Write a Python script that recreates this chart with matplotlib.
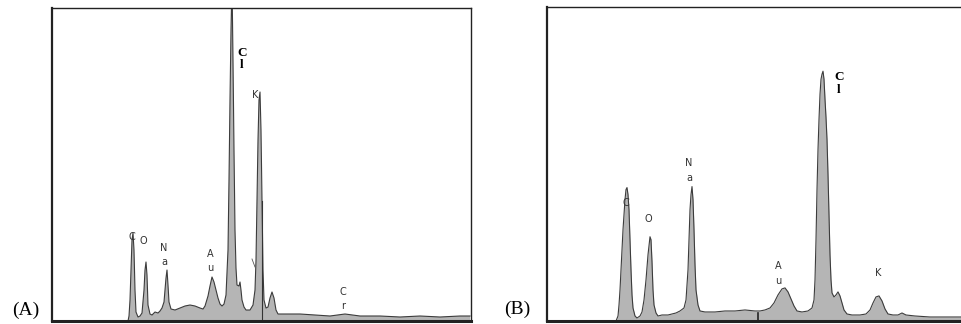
import numpy as np
import matplotlib
matplotlib.use("Agg")
import matplotlib.pyplot as plt

# spectrum (A): channel, counts (arbitrary units)
chan_a = [76, 77, 78, 79, 80, 81, 82, 83, 84, 86, 88, 90, 92, 93, 94, 95, 96, 98, 100,
          103, 106, 108, 110, 112, 113, 114, 115, 116, 117, 119, 123, 128, 133, 138, 143,
          148, 151, 153, 156, 158, 160, 162, 164, 166, 168, 170, 172, 174, 176, 177, 178,
          179, 180, 181, 182, 183, 184, 185, 187, 188, 189, 190, 192, 194, 198, 201, 203,
          204, 205, 206, 207, 208, 209, 210, 211, 212, 214, 216, 218, 220, 222, 224, 226,
          238, 248, 263, 278, 293, 308, 328, 348, 368, 388, 408, 418]
cnt_a = [0, 5, 21, 51, 81, 88, 71, 31, 9, 4, 5, 8, 31, 51, 59, 46, 16, 7, 6,
         9, 8, 10, 13, 19, 31, 43, 51, 36, 19, 12, 11, 13, 15, 16, 15,
         13, 12, 15, 25, 35, 44, 39, 31, 23, 17, 15, 17, 26, 71, 141, 221,
         291, 340, 261, 171, 91, 53, 36, 35, 39, 31, 21, 14, 11, 11, 16, 31,
         61, 121, 181, 221, 229, 191, 121, 51, 21, 13, 14, 23, 29, 23, 11, 7,
         7, 7, 6, 5, 7, 5, 5, 4, 5, 4, 5, 5]

# spectrum (B)
chan_b = [69, 71, 72, 73, 74, 75, 76, 77, 78, 79, 80, 81, 82, 83, 84, 85, 86, 88, 90,
          93, 95, 97, 99, 101, 103, 104, 105, 106, 107, 109, 111, 115, 121, 125, 129,
          133, 137, 139, 141, 142, 143, 144, 145, 146, 147, 148, 149, 151, 153, 158,
          168, 178, 188, 198, 208, 213, 218, 223, 227, 231, 235, 238, 241, 244, 247,
          250, 255, 261, 265, 267, 268, 269, 270, 271, 272, 273, 274, 275, 276, 277,
          278, 279, 280, 281, 282, 283, 284, 285, 287, 289, 291, 293, 295, 297, 300,
          305, 313, 319, 323, 326, 329, 332, 335, 338, 341, 346, 351, 355, 359, 368,
          383, 398, 415]
cnt_b = [0, 5, 16, 31, 51, 71, 91, 106, 121, 131, 133, 126, 111, 81, 51, 26, 13, 5, 3,
         5, 9, 21, 41, 66, 84, 81, 59, 31, 16, 8, 5, 6, 6, 7, 8,
         10, 13, 21, 51, 81, 111, 126, 134, 121, 91, 56, 31, 16, 10, 9,
         9, 10, 10, 11, 10, 10, 11, 13, 18, 26, 32, 33, 29, 22, 15,
         10, 9, 10, 13, 21, 41, 81, 131, 171, 201, 226, 241, 246, 249, 241,
         221, 203, 181, 146, 106, 66, 41, 28, 24, 26, 29, 25, 18, 11, 7,
         6, 6, 7, 11, 18, 24, 25, 20, 12, 7, 6, 6, 8, 6, 5,
         4, 4, 4]

# peak labels: text, channel, counts
labels_a = [("C", 80, 84), ("O", 91, 80), ("N\na", 112, 66), ("A\nu", 158, 60),
            ("K", 203, 226), ("C\nr", 291, 22)]
cl_a = (190, 262)
labels_b = [("C", 79, 118), ("O", 101, 102), ("N\na", 142, 150), ("A\nu", 231, 47),
            ("K", 331, 48)]
cl_b = (292, 237)

FILL = "#b5b5b5"
EDGE = "#3c3c3c"

fig = plt.figure(figsize=(9.61, 3.24), dpi=100)


def spectrum(ax, chan, cnt, labels, cl, xmax):
    ax.fill_between(chan, cnt, 0, color=FILL, lw=0)
    ax.plot(chan, cnt, color=EDGE, lw=0.8)
    for txt, x, y in labels:
        ax.text(x, y, txt, ha="center", va="center", fontsize=7, color="#333333",
                linespacing=1.6, family="DejaVu Sans")
    ax.text(cl[0], cl[1], "C\nl", ha="center", va="center", fontsize=9.5,
            fontweight="bold", family="Liberation Serif", linespacing=1.1)
    ax.set_xlim(0, xmax)
    ax.set_ylim(0, 313)
    ax.set_xticks([])
    ax.set_yticks([])
    ax.spines["left"].set_linewidth(1.6)
    ax.spines["bottom"].set_linewidth(2.2)
    ax.spines["top"].set_linewidth(1.0)
    ax.spines["right"].set_linewidth(1.0)
    for s in ax.spines.values():
        s.set_color("#222222")


axA = fig.add_axes([52 / 961, 3 / 324, 419 / 961, 313 / 324])
spectrum(axA, chan_a, cnt_a, labels_a, cl_a, 419)
axA.plot([210, 210], [0, 120], color="#333333", lw=0.8)
axA.plot([200, 203], [62, 54], color="#555555", lw=0.6)

axB = fig.add_axes([547 / 961, 3 / 324, 416 / 961, 314 / 324])
spectrum(axB, chan_b, cnt_b, labels_b, cl_b, 416)
axB.plot([211, 211], [0, 8], color="#222222", lw=1.2)

fig.text(26 / 961, 1 - 310 / 324, "(A)", ha="center", va="center", fontsize=14,
         family="Liberation Serif")
fig.text(517 / 961, 1 - 309 / 324, "(B)", ha="center", va="center", fontsize=14,
         family="Liberation Serif")

fig.savefig("out.png", dpi=100)
